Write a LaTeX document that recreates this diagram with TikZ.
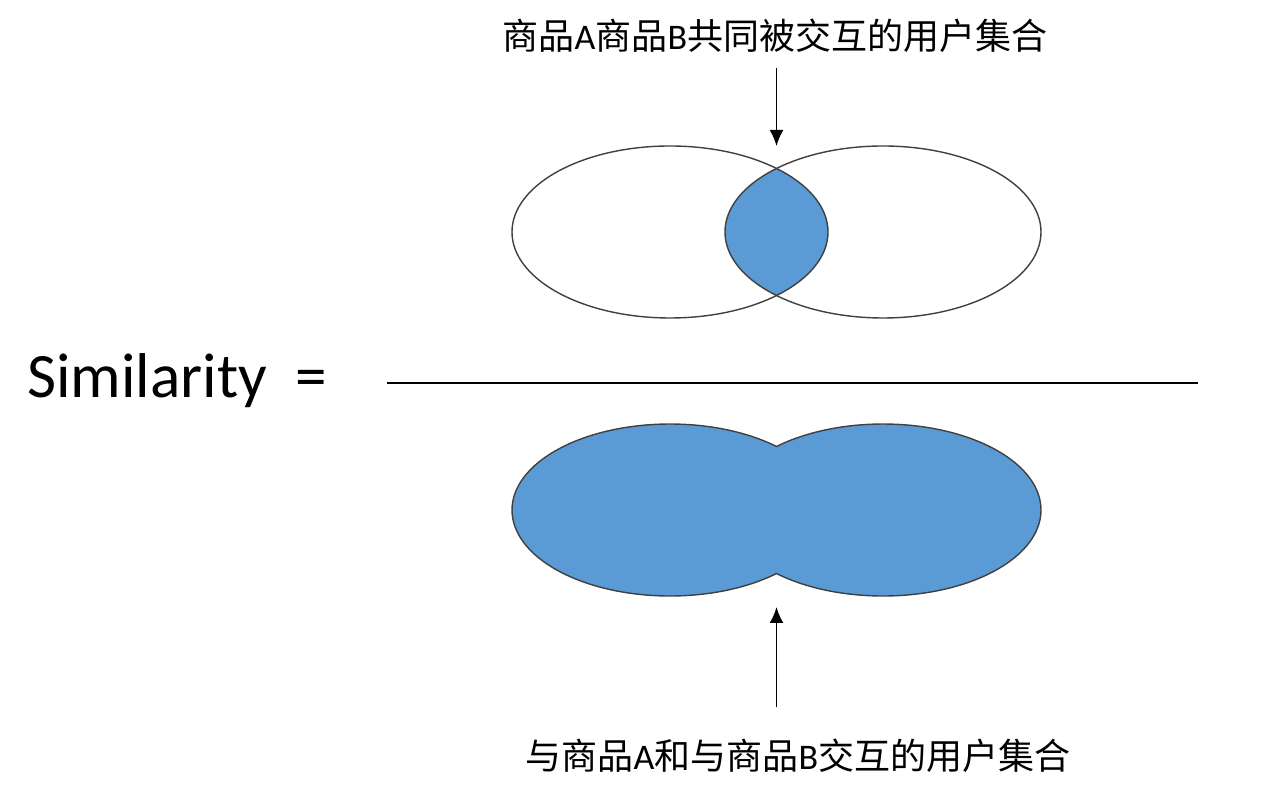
\documentclass[tikz,border=0pt]{standalone}
\usepackage{fontspec}
\setmainfont{Carlito}
\newfontfamily\zhfont{Noto Sans CJK SC}
\newcommand{\zh}[1]{{\zhfont #1}}
\usetikzlibrary{arrows.meta}

\definecolor{setblue}{HTML}{5B9BD5}
\definecolor{setline}{HTML}{404040}

\begin{document}
\begin{tikzpicture}
\tikzset{setedge/.style={draw=setline,line width=0.8pt}}
\tikzset{note/.style={font=\fontsize{20.5}{24}\selectfont,inner sep=0pt}}
\tikzset{pointer/.style={-{Latex[length=3.2mm,width=2.8mm]},line width=1.1pt}}
\useasboundingbox (0,0) rectangle (25.42,15.74);

% numerator: items A and B, shared users
\begin{scope}
  \clip (13.4,11.1) ellipse [x radius=3.16cm, y radius=1.72cm];
  \fill[setblue] (17.66,11.1) ellipse [x radius=3.16cm, y radius=1.72cm];
\end{scope}
\draw[setedge] (13.4,11.1) ellipse [x radius=3.16cm, y radius=1.72cm];
\draw[setedge] (17.66,11.1) ellipse [x radius=3.16cm, y radius=1.72cm];
\coordinate (lenstop) at (15.53,12.82);

% fraction bar
\node[anchor=base west,font=\fontsize{36}{42}\selectfont,inner sep=0pt] (sim) at (0.54,7.78) {Similarity~~=};
\coordinate (barl) at (7.74,8.08);
\coordinate (barr) at (23.96,8.08);
\draw[line width=0.6pt] (barl) -- (barr);

% denominator: union of both
\draw[setedge,fill=setblue] (15.53,6.81)
  arc[start angle=47.62, end angle=312.38, x radius=3.16cm, y radius=1.72cm]
  arc[start angle=227.62, end angle=492.38, x radius=3.16cm, y radius=1.72cm]
  -- cycle;
\coordinate (uniondip) at (15.53,3.6);

% labels
\node[note] (toplabel) at (15.5,15.02) {\zh{商品}A\zh{商品}B\zh{共同被交互的用户集合}};
\node[note] (botlabel) at (15.96,0.62) {\zh{与商品}A\zh{和与商品}B\zh{交互的用户集合}};
\coordinate (toptail) at (15.53,14.38);
\coordinate (bottail) at (15.53,1.6);
\draw[pointer] (toptail) -- (lenstop);
\draw[pointer] (bottail) -- (uniondip);
\end{tikzpicture}
\end{document}
